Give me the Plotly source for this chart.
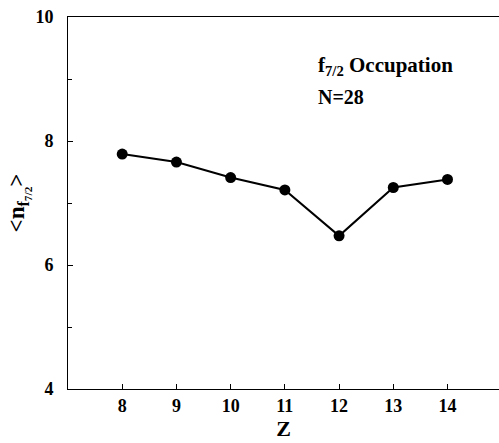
import plotly.graph_objects as go

z_vals = [8, 9, 10, 11, 12, 13, 14]
occupation = [7.79, 7.66, 7.41, 7.21, 6.47, 7.25, 7.38]
x_ticks = [8, 9, 10, 11, 12, 13, 14]
y_ticks = [4, 6, 8, 10]

font_family = "Liberation Serif"

fig = go.Figure()
fig.add_trace(go.Scatter(
    x=z_vals, y=occupation, mode="lines+markers",
    line=dict(color="black", width=2),
    marker=dict(color="black", size=11),
    showlegend=False,
))

fig.update_layout(
    width=499, height=443,
    margin=dict(l=68, r=0, t=17, b=54),
    paper_bgcolor="white", plot_bgcolor="white",
    font=dict(family=font_family, color="black"),
    xaxis=dict(
        range=[7, 14.95], tickvals=x_ticks,
        ticktext=[f"<b>{v}</b>" for v in x_ticks],
        ticks="inside", ticklen=5,
        tickcolor="black", showgrid=False, zeroline=False,
        showline=True, linecolor="black", linewidth=1, mirror=True,
        tickfont=dict(family=font_family, size=18),
        title=dict(text="<b>Z</b>", font=dict(family=font_family, size=22), standoff=4),
    ),
    yaxis=dict(
        range=[4, 10], tickvals=y_ticks,
        ticktext=[f"<b>{v}</b>" for v in y_ticks],
        ticks="inside", ticklen=5, ticklabelstandoff=10,
        tickcolor="black", showgrid=False, zeroline=False,
        showline=True, linecolor="black", linewidth=1, mirror=True,
        tickfont=dict(family=font_family, size=18),
        minor=dict(tickvals=[5, 7, 9], ticks="inside", ticklen=4, tickcolor="black"),
        title=dict(text="<b>&lt;n<sub>f<sub>7/2</sub></sub>&gt;</b>",
                   font=dict(family=font_family, size=23), standoff=4),
    ),
    annotations=[
        dict(text="<b>f<sub>7/2</sub> Occupation</b>", xref="paper", yref="paper",
             x=0.576, y=0.868, xanchor="left", yanchor="middle", showarrow=False,
             font=dict(family=font_family, size=21)),
        dict(text="<b>N=28</b>", xref="paper", yref="paper",
             x=0.576, y=0.786, xanchor="left", yanchor="middle", showarrow=False,
             font=dict(family=font_family, size=20)),
    ],
)

fig.write_html("out.html")
